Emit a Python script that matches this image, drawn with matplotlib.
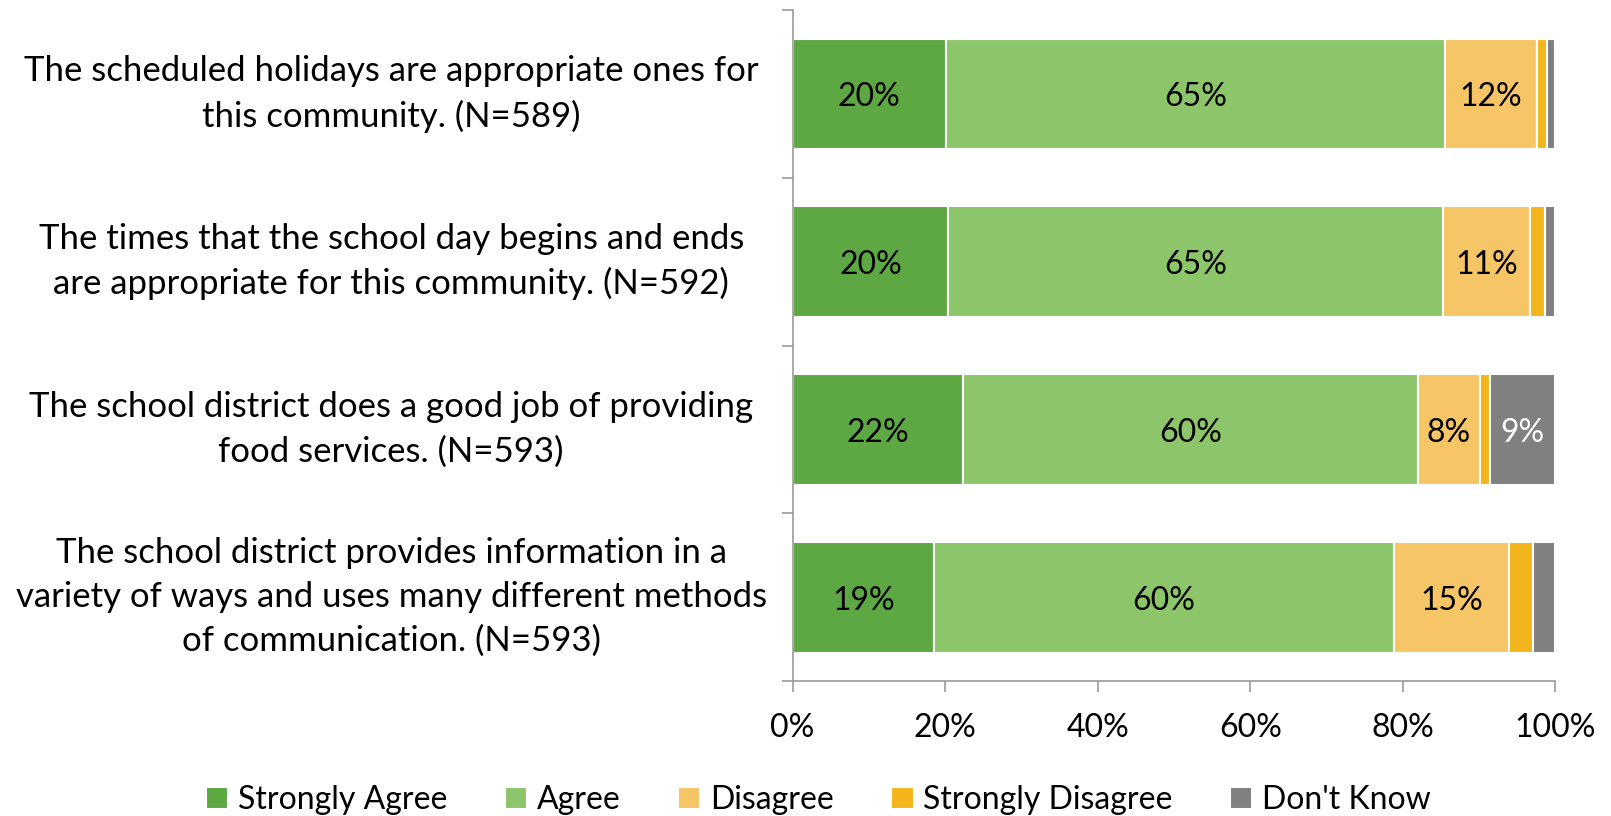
import matplotlib.pyplot as plt
import numpy as np

plt.rcParams['font.family'] = ['Lato', 'DejaVu Sans']

questions = [
    "The scheduled holidays are appropriate ones for\nthis community. (N=589)",
    "The times that the school day begins and ends\nare appropriate for this community. (N=592)",
    "The school district does a good job of providing\nfood services. (N=593)",
    "The school district provides information in a\nvariety of ways and uses many different methods\nof communication. (N=593)",
]
series = ["Strongly Agree", "Agree", "Disagree", "Strongly Disagree", "Don't Know"]
strongly_agree = [20.1, 20.4, 22.4, 18.6]
agree = [65.4, 64.9, 59.6, 60.2]
disagree = [12.1, 11.4, 8.1, 15.1]
strongly_disagree = [1.3, 1.9, 1.3, 3.2]
dont_know = [1.1, 1.4, 8.6, 2.9]
colors = ["#5EA843", "#8DC56A", "#F6C566", "#F2B61C", "#808080"]
text_colors = ["black", "black", "black", "black", "white"]

data = [strongly_agree, agree, disagree, strongly_disagree, dont_know]

fig = plt.figure(figsize=(16.11, 8.16), dpi=100)
ax = fig.add_axes([0.492, 0.1654, 0.4735, 0.8223])

y = np.arange(len(questions))
left = np.zeros(len(questions))
for vals, name, c, tc in zip(data, series, colors, text_colors):
    vals = np.array(vals)
    ax.barh(y, vals, left=left, height=0.66, color=c, edgecolor="white",
            linewidth=1.5, label=name)
    for yi, v, l in zip(y, vals, left):
        if v >= 5:
            ax.text(l + v / 2, yi + 0.02, f"{v:.0f}%", ha="center", va="center",
                    fontsize=23, color=tc)
    left += vals

ax.set_xlim(0, 100)
ax.set_ylim(len(questions) - 0.5, -0.5)
ax.set_xticks(np.arange(0, 101, 20))
ax.set_xticklabels([f"{t}%" for t in range(0, 101, 20)], fontsize=23)
ax.set_yticks(y)
ax.set_yticklabels(questions, fontsize=25, ha="center", linespacing=1.45)
for lab in ax.get_yticklabels():
    lab.set_va("center")
ax.tick_params(axis="y", length=0, pad=289)
ax.set_yticks(np.arange(-0.5, len(questions)), minor=True)
ax.tick_params(axis="y", which="minor", length=8, width=1.2, color="#999999")
ax.tick_params(axis="x", length=8, width=1.2, color="#999999", pad=15)
for s in ["top", "right"]:
    ax.spines[s].set_visible(False)
for s in ["left", "bottom"]:
    ax.spines[s].set_color("#999999")
    ax.spines[s].set_linewidth(1.2)

ax.legend(loc="center", bbox_to_anchor=(0.508, 0.019), ncol=5, frameon=False,
          fontsize=23, handlelength=0.7, handleheight=0.7, handletextpad=0.3,
          columnspacing=1.8, bbox_transform=fig.transFigure)

fig.savefig("out.png")
